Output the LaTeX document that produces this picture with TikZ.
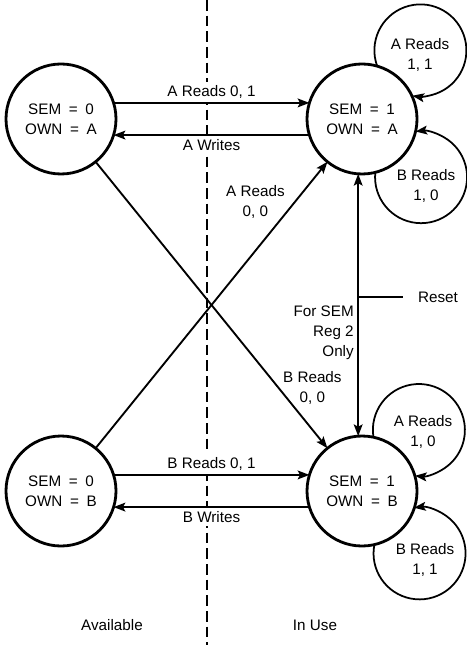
\documentclass[tikz,border=0pt]{standalone}
\usepackage{fontspec}
\setmainfont{Liberation Sans}
\usetikzlibrary{arrows.meta,
positioning,
calc}

\begin{document}
\begin{tikzpicture}[
    x=0.03cm, y=0.03cm,
    node distance=7.86cm and 5.73cm,
    >={Stealth[length=10pt,width=7.5pt,inset=2pt]},
    font=\fontsize{13}{17}\selectfont,
    state/.style={
        draw,
        circle,
        line width=2.4pt,
        outer sep=0pt,
        align=center,
        minimum size=3.3cm
    },
    edge/.style={->, line width=1.6pt},
    loopedge/.style={->, line width=1.5pt},
    lbl/.style={align=center, inner sep=3pt},
    cut/.style={lbl, fill=white}
]

\useasboundingbox (0,0) rectangle (466,645);

% divider between the two halves
\coordinate (divtop) at (207,645);
\coordinate (divbot) at (207,0);
\draw[line width=2.2pt, dash pattern=on 0.32cm off 0.15cm] (divtop) -- (divbot);

\node[state] at (61,526) (sa) {SEM\enspace=\enspace0\\OWN\enspace=\enspace A};

\node[state, right=of sa] (ra) {SEM\enspace=\enspace1\\OWN\enspace=\enspace A};

\node[state, below=of sa] (sb) {SEM\enspace=\enspace0\\OWN\enspace=\enspace B};

\node[state, below=of ra] (rb) {SEM\enspace=\enspace1\\OWN\enspace=\enspace B};

\draw[edge] (sa.17) -- node[above, cut] {A Reads 0, 1} (ra.163);
\draw[edge] (ra.197) -- node[below, cut] {A Writes} (sa.343);
\draw[edge] (sb.17) -- node[above, cut] {B Reads 0, 1} (rb.163);
\draw[edge] (rb.197) -- node[below, cut] {B Writes} (sb.343);

\draw[edge] (sb) -- node[pos=0.86, left=5pt, lbl] {A Reads\\0, 0} (ra);
\draw[edge] (sa) -- node[pos=0.79, right, lbl] {B Reads\\0, 0} (rb);

% self loops
\draw[loopedge] (ra.74) arc[start angle=200, end angle=-100, radius=1.38cm];
\draw[loopedge] (ra.284) arc[start angle=174, end angle=457, radius=1.38cm];
\draw[loopedge] (rb.78) arc[start angle=189, end angle=-95, radius=1.38cm];
\draw[loopedge] (rb.283) arc[start angle=169, end angle=457, radius=1.38cm];

\node[lbl] (raa) at ($(ra)+(58,64)$) {A Reads\\1, 1};
\node[lbl] (rab) at ($(ra)+(64,-67)$) {B Reads\\1, 0};
\node[lbl] (rba) at ($(rb)+(61,59)$) {A Reads\\1, 0};
\node[lbl] (rbb) at ($(rb)+(63,-69)$) {B Reads\\1, 1};

% reset line
\draw[<->, line width=1.6pt] (ra.266) -- coordinate[pos=0.47] (tap)
    node[pos=0.606, left, lbl, align=right] {For SEM\\Reg 2\\Only} (rb.94);
\node[right=1.35cm of tap, inner xsep=12.5pt] (reset) {Reset};
\draw[line width=1.6pt] (tap) -- (reset);

\node (avail) at (112,20) {Available};
\node (inuse) at (315,20) {In Use};

\end{tikzpicture}
\end{document}
